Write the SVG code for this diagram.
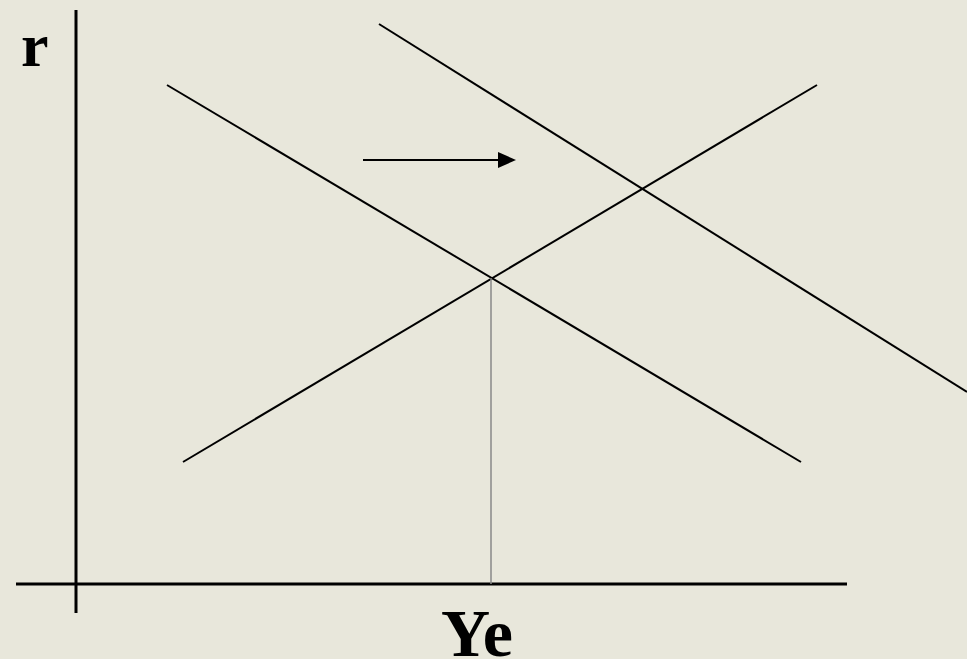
<svg xmlns="http://www.w3.org/2000/svg" width="967" height="659" viewBox="0 0 967 659">
<style>
.ax{stroke:#000;stroke-width:3;fill:none}
.ln{stroke:#000;stroke-width:2;fill:none}
.lbl{font-family:"Liberation Serif",serif;font-weight:bold;fill:#000}
</style>
<defs>
<marker id="ah" markerWidth="9" markerHeight="8" refX="0" refY="4" orient="auto" markerUnits="strokeWidth">
<path d="M0,0 L9,4 L0,8 Z" fill="#000"/>
</marker>
</defs>
<rect width="967" height="659" fill="#E8E7DB"/>
<g id="axes">
<line class="ax" x1="76" y1="10" x2="76" y2="613"/>
<line class="ax" x1="16" y1="584" x2="847" y2="584"/>
</g>
<g id="connectors">
<line class="ln" x1="167" y1="85" x2="801" y2="462"/>
<line class="ln" x1="183" y1="462" x2="817" y2="85"/>
<line class="ln" x1="379" y1="24" x2="967" y2="392"/>
<line x1="491" y1="278" x2="491" y2="584" stroke="#888" stroke-width="1.5"/>
<line class="ln" x1="363" y1="160" x2="498" y2="160" marker-end="url(#ah)"/>
</g>
<g id="label-r"><text class="lbl" x="21" y="66" font-size="62">r</text></g>
<g id="label-ye"><text class="lbl" x="477" y="656" font-size="68" text-anchor="middle">Ye</text></g>
</svg>
